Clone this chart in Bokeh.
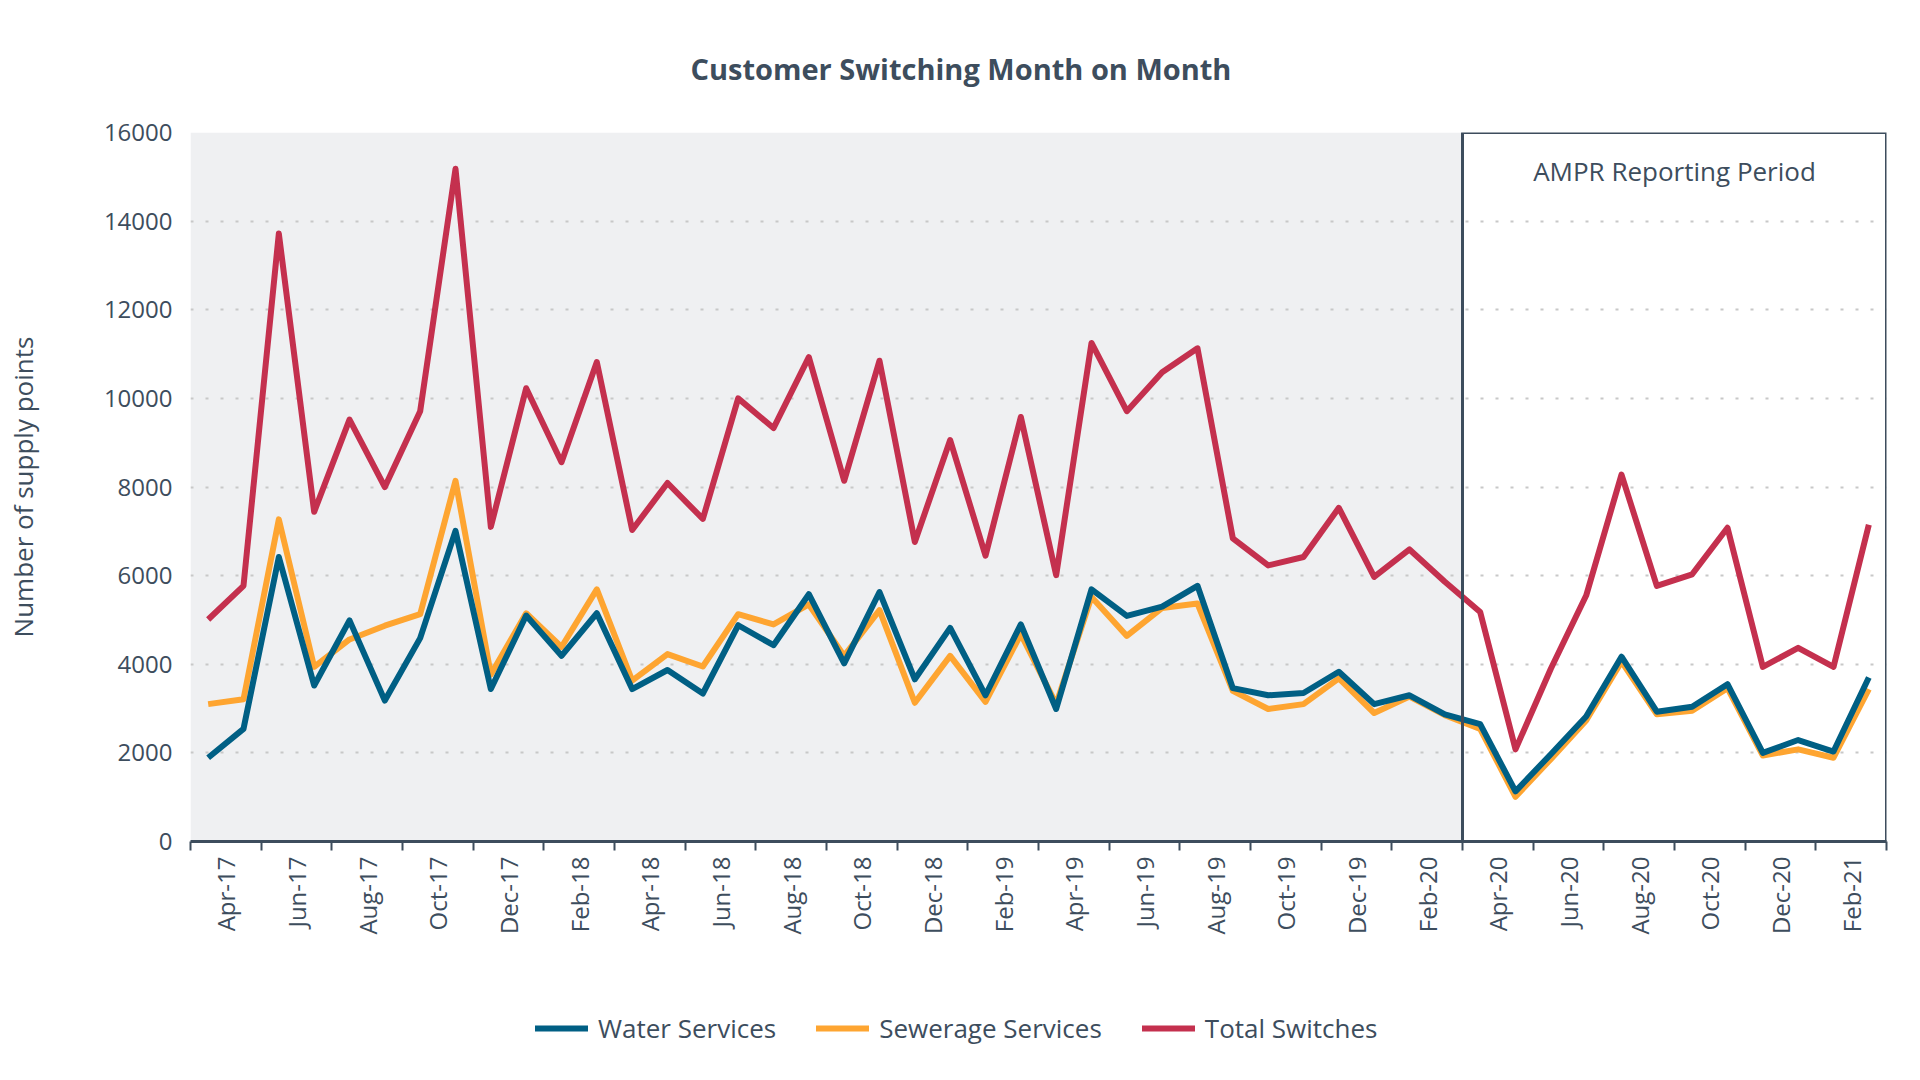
import math
from bokeh.plotting import figure
from bokeh.layouts import column
from bokeh.models import (FixedTicker, BoxAnnotation, Label, Legend, LegendItem,
                          ColumnDataSource, Range1d)
from bokeh.embed import file_html
from bokeh.resources import INLINE

# ---------------- data ----------------
months = ["Apr-17", "May-17", "Jun-17", "Jul-17", "Aug-17", "Sep-17", "Oct-17", "Nov-17",
          "Dec-17", "Jan-18", "Feb-18", "Mar-18", "Apr-18", "May-18", "Jun-18", "Jul-18",
          "Aug-18", "Sep-18", "Oct-18", "Nov-18", "Dec-18", "Jan-19", "Feb-19", "Mar-19",
          "Apr-19", "May-19", "Jun-19", "Jul-19", "Aug-19", "Sep-19", "Oct-19", "Nov-19",
          "Dec-19", "Jan-20", "Feb-20", "Mar-20", "Apr-20", "May-20", "Jun-20", "Jul-20",
          "Aug-20", "Sep-20", "Oct-20", "Nov-20", "Dec-20", "Jan-21", "Feb-21", "Mar-21"]

water_services = [1890, 2540, 6420, 3520, 4990, 3180, 4590, 7010, 3440, 5100, 4190, 5150,
                  3440, 3870, 3340, 4880, 4430, 5580, 4020, 5630, 3660, 4820, 3300, 4900,
                  2990, 5690, 5090, 5300, 5770, 3460, 3300, 3350, 3830, 3100, 3300, 2870,
                  2650, 1130, 1970, 2820, 4170, 2930, 3040, 3550, 2000, 2290, 2030, 3700]

sewerage_services = [3100, 3210, 7270, 3940, 4560, 4870, 5130, 8140, 3770, 5150, 4390, 5690,
                     3630, 4230, 3950, 5130, 4900, 5350, 4190, 5220, 3130, 4190, 3150, 4680,
                     3100, 5520, 4640, 5270, 5370, 3400, 2990, 3100, 3680, 2900, 3270, 2850,
                     2540, 1010, 1860, 2730, 4060, 2870, 2950, 3460, 1940, 2080, 1890, 3440]

total_switches = [5010, 5770, 13720, 7440, 9520, 8000, 9710, 15180, 7100, 10230, 8560, 10820,
                  7030, 8090, 7280, 10000, 9330, 10930, 8140, 10850, 6760, 9060, 6450, 9580,
                  6010, 11250, 9710, 10590, 11130, 6840, 6230, 6420, 7530, 5970, 6590, 5860,
                  5180, 2080, 3900, 5550, 8280, 5770, 6030, 7080, 3940, 4370, 3940, 7150]

y_ticks = [0, 2000, 4000, 6000, 8000, 10000, 12000, 14000, 16000]
series_names = ["Water Services", "Sewerage Services", "Total Switches"]
ampr_start_month = "Apr-20"
ampr_text = "AMPR Reporting Period"
title_text = "Customer Switching Month on Month"
y_label = "Number of supply points"

# ---------------- styling ----------------
TEXT = "#3d4d5d"
BLUE = "#005f84"
ORANGE = "#fea531"
RED = "#c4304e"
GREY_BG = "#eff0f2"
FONT = "Open Sans"
LW = 6

n = len(months)
xs = list(range(n))
src = ColumnDataSource(dict(x=xs, month=months, water=water_services,
                            sewerage=sewerage_services, total=total_switches))

W = 1904
H_MAIN = 960
H_LEG = 104
ML, MR, MT = 190, 18, 132
FRAME_BOTTOM = 841
MB = H_MAIN - FRAME_BOTTOM
frame_h = H_MAIN - MT - MB

p = figure(width=W, height=H_MAIN, output_backend="svg", toolbar_location=None,
           x_range=Range1d(-0.5, n - 0.5), y_range=Range1d(y_ticks[0], y_ticks[-1]),
           min_border_left=ML, min_border_right=MR, min_border_top=MT, min_border_bottom=MB)
p.outline_line_color = None
p.background_fill_color = "white"
p.border_fill_color = "white"

# title
p.title.text = title_text
p.title.align = "left"
p.title.offset = 500
p.title.text_font = FONT
p.title.text_font_size = "29px"
p.title.text_font_style = "bold"
p.title.text_color = TEXT
p.title.standoff = 90

# y axis
p.yaxis.ticker = FixedTicker(ticks=y_ticks)
p.yaxis.axis_line_color = None
p.yaxis.major_tick_line_color = None
p.yaxis.minor_tick_line_color = None
p.yaxis.major_tick_out = 0
p.yaxis.major_tick_in = 0
p.yaxis.minor_tick_out = 0
p.yaxis.major_label_standoff = 18
p.yaxis.major_label_text_font = FONT
p.yaxis.major_label_text_font_size = "24px"
p.yaxis.major_label_text_color = TEXT
p.yaxis.axis_label = y_label
p.yaxis.axis_label_text_font = FONT
p.yaxis.axis_label_text_font_size = "26px"
p.yaxis.axis_label_text_font_style = "normal"
p.yaxis.axis_label_text_color = TEXT
p.yaxis.axis_label_standoff = 60

# x axis: labels centred on each pair of months, ticks at pair boundaries
label_pos = [i + 0.5 for i in range(0, n, 2)]
p.xaxis.ticker = FixedTicker(ticks=label_pos, minor_ticks=[i - 0.5 for i in range(0, n + 1, 2)])
p.xaxis.major_label_overrides = {i + 0.5: months[i] for i in range(0, n, 2)}
p.xaxis.major_tick_line_color = None
p.xaxis.major_tick_out = 0
p.xaxis.major_tick_in = 0
p.xaxis.minor_tick_line_color = TEXT
p.xaxis.minor_tick_line_width = 2
p.xaxis.minor_tick_out = 9
p.xaxis.minor_tick_in = 0
p.xaxis.axis_line_color = TEXT
p.xaxis.axis_line_width = 3
p.xaxis.major_label_orientation = math.pi / 2
p.xaxis.major_label_standoff = 6
p.xaxis.major_label_text_font = FONT
p.xaxis.major_label_text_font_size = "24px"
p.xaxis.major_label_text_color = TEXT

# grid
p.xgrid.grid_line_color = None
p.ygrid.ticker = FixedTicker(ticks=y_ticks)
p.ygrid.grid_line_color = "#c8c8c8"
p.ygrid.grid_line_dash = "3 12"
p.ygrid.grid_line_width = 2

ampr_x = months.index(ampr_start_month) - 0.5

grey = BoxAnnotation(left=-0.5, right=ampr_x, bottom=y_ticks[0], top=y_ticks[-1],
                     fill_color=GREY_BG, fill_alpha=1.0, line_color=None, level="image")
p.add_layout(grey)

p.line("x", "sewerage", source=src, line_color=ORANGE, line_width=LW, line_join="round")
p.line("x", "water", source=src, line_color=BLUE, line_width=LW, line_join="round")
p.line("x", "total", source=src, line_color=RED, line_width=LW, line_join="round")

ampr_box = BoxAnnotation(left=ampr_x, right=n - 0.5, bottom=y_ticks[0], top=y_ticks[-1],
                         fill_alpha=0, line_color=TEXT, line_alpha=1.0, line_width=3)
p.add_layout(ampr_box)

p.add_layout(Label(x=(ampr_x + n - 0.5) / 2, y=frame_h - 38, y_units="screen",
                   text=ampr_text, text_align="center", text_baseline="middle",
                   text_font=FONT, text_font_size="26px", text_color=TEXT))

# ---------------- legend strip (own small figure below the chart) ----------------
pl = figure(width=W, height=H_LEG, output_backend="svg", toolbar_location=None,
            x_range=Range1d(0, 1), y_range=Range1d(0, 1),
            min_border_left=0, min_border_right=0, min_border_top=0, min_border_bottom=0)
pl.axis.visible = False
pl.grid.visible = False
pl.outline_line_color = None
pl.background_fill_color = "white"
pl.border_fill_color = "white"
# single off-range points: these renderers only supply the legend swatches
lw_ = pl.line(x=[0.5], y=[-5], line_color=BLUE, line_width=LW, line_cap="round")
ls_ = pl.line(x=[0.5], y=[-5], line_color=ORANGE, line_width=LW, line_cap="round")
lt_ = pl.line(x=[0.5], y=[-5], line_color=RED, line_width=LW, line_cap="round")

legend = Legend(items=[LegendItem(label=series_names[0], renderers=[lw_]),
                       LegendItem(label=series_names[1], renderers=[ls_]),
                       LegendItem(label=series_names[2], renderers=[lt_])],
                orientation="horizontal", location=(345, 18))
legend.label_text_font = FONT
legend.label_text_font_size = "26px"
legend.label_text_color = TEXT
legend.glyph_width = 53
legend.glyph_height = 20
legend.label_standoff = 10
legend.spacing = 40
legend.padding = 0
legend.margin = 0
legend.border_line_color = None
legend.background_fill_alpha = 0
pl.add_layout(legend)

layout = column(p, pl, spacing=0)
open("out.html", "w").write(file_html(layout, INLINE))
